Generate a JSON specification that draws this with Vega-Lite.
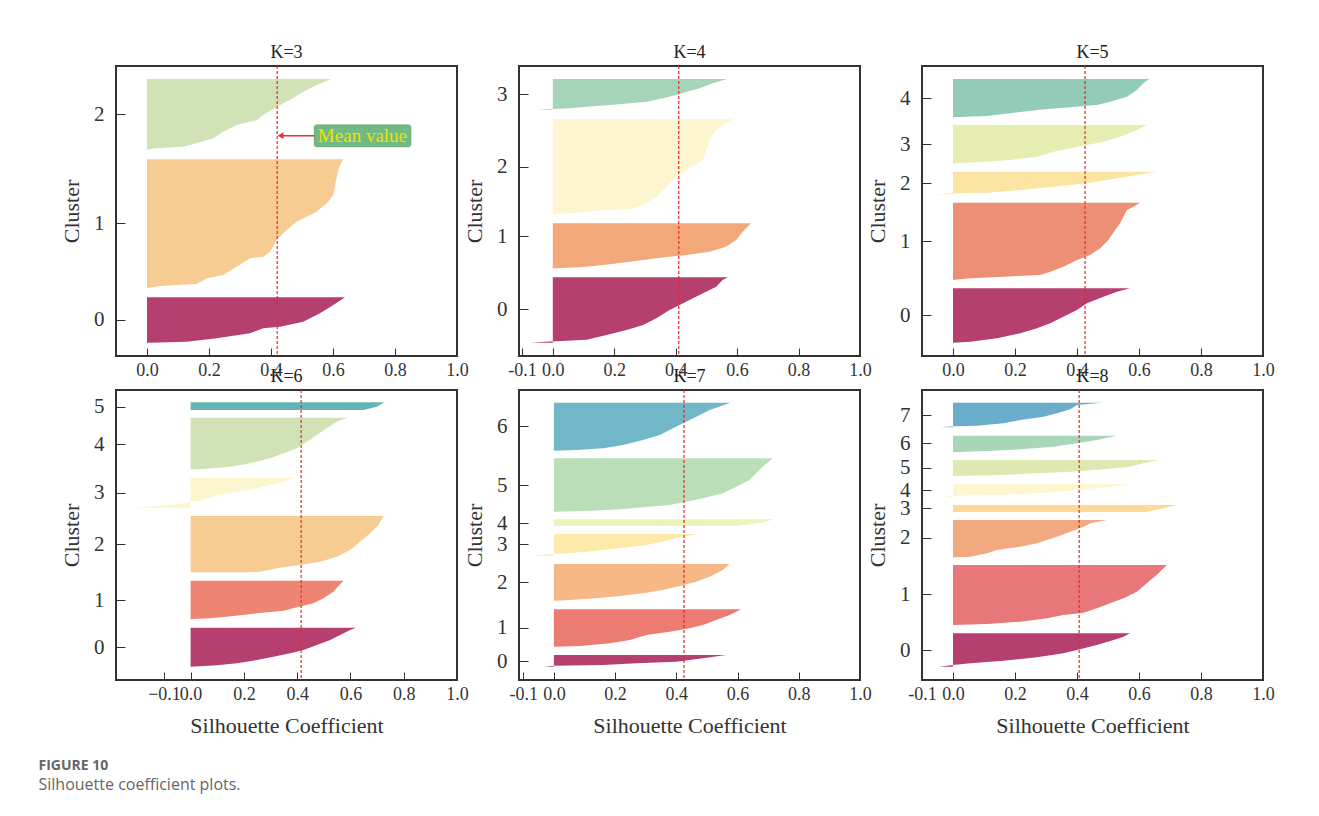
{
  "$schema": "https://vega.github.io/schema/vega-lite/v6.json",
  "background": "white",
  "padding": {"left": 38, "top": 43, "right": 5, "bottom": 5},
  "bounds": "flush",
  "columns": 3,
  "spacing": {"row": 34, "column": 62},
  "title": {
    "text": "FIGURE 10",
    "subtitle": "Silhouette coefficient plots.",
    "orient": "bottom",
    "anchor": "start",
    "frame": "bounds",
    "font": "Open Sans",
    "fontSize": 14,
    "fontWeight": "bold",
    "color": "#666666",
    "subtitleFont": "Open Sans",
    "subtitleFontSize": 16,
    "subtitleColor": "#666666",
    "subtitlePadding": 4,
    "offset": 22,
    "dx": -21
  },
  "datasets": {
    "means": [
      {"k": 3, "mean": 0.42}, {"k": 4, "mean": 0.41}, {"k": 5, "mean": 0.426},
      {"k": 6, "mean": 0.415}, {"k": 7, "mean": 0.425}, {"k": 8, "mean": 0.407}
    ],
    "note": [
      {"x1": 0.54, "x2": 0.851, "y1": 209.3, "y2": 231, "tx": 0.695, "ty": 220, "label": "Mean value", "ax1": 0.435, "ax2": 0.54, "hx": 0.431, "ay": 220.3}
    ],
    "sil": [
      {"k":3,"c":0,"y":13.3,"v":0.01},{"k":3,"c":0,"y":14.3,"v":0.128},{"k":3,"c":0,"y":17.7,"v":0.225},{"k":3,"c":0,"y":22.7,"v":0.332},{"k":3,"c":0,"y":27.7,"v":0.375},{"k":3,"c":0,"y":29.3,"v":0.429},{"k":3,"c":0,"y":34.3,"v":0.504},{"k":3,"c":0,"y":42.7,"v":0.558},{"k":3,"c":0,"y":51,"v":0.601},{"k":3,"c":0,"y":58.7,"v":0.639},
      {"k":3,"c":1,"y":67.7,"v":-0.005},{"k":3,"c":1,"y":70,"v":0.042},{"k":3,"c":1,"y":72,"v":0.16},{"k":3,"c":1,"y":77.7,"v":0.193},{"k":3,"c":1,"y":81,"v":0.246},{"k":3,"c":1,"y":89.3,"v":0.289},{"k":3,"c":1,"y":97.7,"v":0.332},{"k":3,"c":1,"y":99.3,"v":0.375},{"k":3,"c":1,"y":104.3,"v":0.397},{"k":3,"c":1,"y":116,"v":0.418},{"k":3,"c":1,"y":126,"v":0.45},{"k":3,"c":1,"y":134.3,"v":0.483},{"k":3,"c":1,"y":139.3,"v":0.515},{"k":3,"c":1,"y":144.3,"v":0.547},{"k":3,"c":1,"y":152.7,"v":0.58},{"k":3,"c":1,"y":161,"v":0.601},{"k":3,"c":1,"y":179.3,"v":0.612},{"k":3,"c":1,"y":189.3,"v":0.62},{"k":3,"c":1,"y":196.7,"v":0.633},
      {"k":3,"c":2,"y":206,"v":-0.012},{"k":3,"c":2,"y":207.7,"v":0.031},{"k":3,"c":2,"y":209.3,"v":0.117},{"k":3,"c":2,"y":212.7,"v":0.16},{"k":3,"c":2,"y":217.7,"v":0.214},{"k":3,"c":2,"y":224.3,"v":0.246},{"k":3,"c":2,"y":231,"v":0.289},{"k":3,"c":2,"y":236,"v":0.354},{"k":3,"c":2,"y":241,"v":0.375},{"k":3,"c":2,"y":249.3,"v":0.418},{"k":3,"c":2,"y":256,"v":0.461},{"k":3,"c":2,"y":264.3,"v":0.504},{"k":3,"c":2,"y":271,"v":0.547},{"k":3,"c":2,"y":277,"v":0.594},

      {"k":4,"c":0,"y":13.3,"v":-0.074},{"k":4,"c":0,"y":14.5,"v":-0.01},{"k":4,"c":0,"y":15,"v":0.03},{"k":4,"c":0,"y":16.3,"v":0.11},{"k":4,"c":0,"y":21,"v":0.175},{"k":4,"c":0,"y":26,"v":0.24},{"k":4,"c":0,"y":31,"v":0.294},{"k":4,"c":0,"y":37.7,"v":0.337},{"k":4,"c":0,"y":46,"v":0.38},{"k":4,"c":0,"y":51,"v":0.413},{"k":4,"c":0,"y":56,"v":0.445},{"k":4,"c":0,"y":62.7,"v":0.489},{"k":4,"c":0,"y":69.3,"v":0.532},{"k":4,"c":0,"y":76,"v":0.553},{"k":4,"c":0,"y":78.7,"v":0.57},
      {"k":4,"c":1,"y":87.7,"v":0.005},{"k":4,"c":1,"y":88.7,"v":0.089},{"k":4,"c":1,"y":91,"v":0.164},{"k":4,"c":1,"y":94.3,"v":0.251},{"k":4,"c":1,"y":97.7,"v":0.337},{"k":4,"c":1,"y":99.3,"v":0.38},{"k":4,"c":1,"y":101,"v":0.435},{"k":4,"c":1,"y":104.3,"v":0.51},{"k":4,"c":1,"y":109.3,"v":0.564},{"k":4,"c":1,"y":116,"v":0.597},{"k":4,"c":1,"y":124.3,"v":0.618},{"k":4,"c":1,"y":132.7,"v":0.645},
      {"k":4,"c":2,"y":142,"v":0.0},{"k":4,"c":2,"y":143.3,"v":0.078},{"k":4,"c":2,"y":146,"v":0.164},{"k":4,"c":2,"y":146.7,"v":0.251},{"k":4,"c":2,"y":151,"v":0.294},{"k":4,"c":2,"y":159.3,"v":0.337},{"k":4,"c":2,"y":169.3,"v":0.37},{"k":4,"c":2,"y":179.3,"v":0.402},{"k":4,"c":2,"y":186,"v":0.435},{"k":4,"c":2,"y":196,"v":0.489},{"k":4,"c":2,"y":206,"v":0.5},{"k":4,"c":2,"y":216,"v":0.51},{"k":4,"c":2,"y":226,"v":0.532},{"k":4,"c":2,"y":232.7,"v":0.564},{"k":4,"c":2,"y":236.7,"v":0.586},
      {"k":4,"c":3,"y":246,"v":-0.052},{"k":4,"c":3,"y":247,"v":0.0},{"k":4,"c":3,"y":247.7,"v":0.056},{"k":4,"c":3,"y":249.3,"v":0.11},{"k":4,"c":3,"y":251,"v":0.186},{"k":4,"c":3,"y":252.7,"v":0.251},{"k":4,"c":3,"y":254.3,"v":0.305},{"k":4,"c":3,"y":257.7,"v":0.359},{"k":4,"c":3,"y":261,"v":0.402},{"k":4,"c":3,"y":264.3,"v":0.435},{"k":4,"c":3,"y":267.7,"v":0.478},{"k":4,"c":3,"y":272.7,"v":0.521},{"k":4,"c":3,"y":277,"v":0.568},

      {"k":5,"c":0,"y":13.3,"v":0.0},{"k":5,"c":0,"y":14.3,"v":0.056},{"k":5,"c":0,"y":17.7,"v":0.142},{"k":5,"c":0,"y":22.7,"v":0.217},{"k":5,"c":0,"y":27.7,"v":0.271},{"k":5,"c":0,"y":32.7,"v":0.314},{"k":5,"c":0,"y":39.3,"v":0.356},{"k":5,"c":0,"y":46,"v":0.4},{"k":5,"c":0,"y":52.7,"v":0.432},{"k":5,"c":0,"y":59.3,"v":0.485},{"k":5,"c":0,"y":64.3,"v":0.529},{"k":5,"c":0,"y":67.7,"v":0.571},
      {"k":5,"c":1,"y":76,"v":-0.003},{"k":5,"c":1,"y":77.7,"v":0.056},{"k":5,"c":1,"y":79.3,"v":0.163},{"k":5,"c":1,"y":81,"v":0.281},{"k":5,"c":1,"y":84.3,"v":0.314},{"k":5,"c":1,"y":89.3,"v":0.356},{"k":5,"c":1,"y":96,"v":0.4},{"k":5,"c":1,"y":101,"v":0.442},{"k":5,"c":1,"y":107.7,"v":0.475},{"k":5,"c":1,"y":116,"v":0.501},{"k":5,"c":1,"y":126,"v":0.523},{"k":5,"c":1,"y":132.7,"v":0.539},{"k":5,"c":1,"y":146,"v":0.561},{"k":5,"c":1,"y":149.3,"v":0.582},{"k":5,"c":1,"y":153.3,"v":0.604},
      {"k":5,"c":2,"y":161.7,"v":-0.053},{"k":5,"c":2,"y":162.7,"v":0.0},{"k":5,"c":2,"y":163.3,"v":0.11},{"k":5,"c":2,"y":166,"v":0.217},{"k":5,"c":2,"y":169.3,"v":0.324},{"k":5,"c":2,"y":172.7,"v":0.432},{"k":5,"c":2,"y":177.7,"v":0.529},{"k":5,"c":2,"y":181,"v":0.593},{"k":5,"c":2,"y":184.3,"v":0.657},
      {"k":5,"c":3,"y":192.7,"v":0.0},{"k":5,"c":3,"y":194.3,"v":0.11},{"k":5,"c":3,"y":196,"v":0.185},{"k":5,"c":3,"y":199.3,"v":0.271},{"k":5,"c":3,"y":204.3,"v":0.324},{"k":5,"c":3,"y":207.7,"v":0.378},{"k":5,"c":3,"y":211,"v":0.432},{"k":5,"c":3,"y":214.3,"v":0.485},{"k":5,"c":3,"y":219.3,"v":0.539},{"k":5,"c":3,"y":226,"v":0.593},{"k":5,"c":3,"y":231,"v":0.625},
      {"k":5,"c":4,"y":238.7,"v":0.0},{"k":5,"c":4,"y":240,"v":0.11},{"k":5,"c":4,"y":242.7,"v":0.185},{"k":5,"c":4,"y":246,"v":0.271},{"k":5,"c":4,"y":248.7,"v":0.378},{"k":5,"c":4,"y":251,"v":0.464},{"k":5,"c":4,"y":254.3,"v":0.507},{"k":5,"c":4,"y":259.3,"v":0.561},{"k":5,"c":4,"y":266,"v":0.593},{"k":5,"c":4,"y":272.7,"v":0.614},{"k":5,"c":4,"y":277,"v":0.633},

      {"k":6,"c":0,"y":13.3,"v":0.0},{"k":6,"c":0,"y":14.7,"v":0.099},{"k":6,"c":0,"y":16.7,"v":0.174},{"k":6,"c":0,"y":20,"v":0.249},{"k":6,"c":0,"y":23.3,"v":0.311},{"k":6,"c":0,"y":26.7,"v":0.374},{"k":6,"c":0,"y":30,"v":0.424},{"k":6,"c":0,"y":35,"v":0.474},{"k":6,"c":0,"y":40,"v":0.524},{"k":6,"c":0,"y":45,"v":0.561},{"k":6,"c":0,"y":50,"v":0.599},{"k":6,"c":0,"y":52.3,"v":0.621},
      {"k":6,"c":1,"y":60.7,"v":-0.016},{"k":6,"c":1,"y":61.7,"v":0.074},{"k":6,"c":1,"y":64,"v":0.161},{"k":6,"c":1,"y":66.7,"v":0.249},{"k":6,"c":1,"y":69.3,"v":0.349},{"k":6,"c":1,"y":72.7,"v":0.399},{"k":6,"c":1,"y":76.7,"v":0.461},{"k":6,"c":1,"y":81.7,"v":0.499},{"k":6,"c":1,"y":88.3,"v":0.536},{"k":6,"c":1,"y":94,"v":0.555},{"k":6,"c":1,"y":99.3,"v":0.574},
      {"k":6,"c":2,"y":107.7,"v":0.2},{"k":6,"c":2,"y":108.3,"v":0.261},{"k":6,"c":2,"y":111.7,"v":0.324},{"k":6,"c":2,"y":115,"v":0.411},{"k":6,"c":2,"y":118.3,"v":0.486},{"k":6,"c":2,"y":123.3,"v":0.549},{"k":6,"c":2,"y":130,"v":0.599},{"k":6,"c":2,"y":138.3,"v":0.636},{"k":6,"c":2,"y":146.7,"v":0.674},{"k":6,"c":2,"y":155,"v":0.705},{"k":6,"c":2,"y":164,"v":0.724},
      {"k":6,"c":3,"y":172.3,"v":-0.232},{"k":6,"c":3,"y":174,"v":-0.114},{"k":6,"c":3,"y":176.7,"v":-0.026},{"k":6,"c":3,"y":178.3,"v":0.0},{"k":6,"c":3,"y":179,"v":0.036},{"k":6,"c":3,"y":181.7,"v":0.061},{"k":6,"c":3,"y":185,"v":0.099},{"k":6,"c":3,"y":188.3,"v":0.174},{"k":6,"c":3,"y":191.7,"v":0.249},{"k":6,"c":3,"y":195,"v":0.299},{"k":6,"c":3,"y":198.3,"v":0.349},{"k":6,"c":3,"y":200.7,"v":0.374},{"k":6,"c":3,"y":202.3,"v":0.399},
      {"k":6,"c":4,"y":210.7,"v":0.0},{"k":6,"c":4,"y":211,"v":0.049},{"k":6,"c":4,"y":213.3,"v":0.149},{"k":6,"c":4,"y":216.7,"v":0.224},{"k":6,"c":4,"y":221.7,"v":0.299},{"k":6,"c":4,"y":226.7,"v":0.349},{"k":6,"c":4,"y":231.7,"v":0.399},{"k":6,"c":4,"y":238.3,"v":0.436},{"k":6,"c":4,"y":245,"v":0.474},{"k":6,"c":4,"y":251.7,"v":0.511},{"k":6,"c":4,"y":258.3,"v":0.549},{"k":6,"c":4,"y":262.3,"v":0.592},
      {"k":6,"c":5,"y":270,"v":0.649},{"k":6,"c":5,"y":273.3,"v":0.699},{"k":6,"c":5,"y":277.7,"v":0.727},

      {"k":7,"c":0,"y":13.3,"v":-0.033},{"k":7,"c":0,"y":14.3,"v":0.0},{"k":7,"c":0,"y":15,"v":0.161},{"k":7,"c":0,"y":16.7,"v":0.27},{"k":7,"c":0,"y":18.3,"v":0.4},{"k":7,"c":0,"y":21.7,"v":0.487},{"k":7,"c":0,"y":25,"v":0.563},
      {"k":7,"c":1,"y":33.3,"v":0.0},{"k":7,"c":1,"y":34,"v":0.085},{"k":7,"c":1,"y":36.7,"v":0.183},{"k":7,"c":1,"y":40,"v":0.248},{"k":7,"c":1,"y":45,"v":0.302},{"k":7,"c":1,"y":48.3,"v":0.378},{"k":7,"c":1,"y":51.7,"v":0.443},{"k":7,"c":1,"y":55,"v":0.487},{"k":7,"c":1,"y":60,"v":0.53},{"k":7,"c":1,"y":65,"v":0.574},{"k":7,"c":1,"y":70.7,"v":0.612},
      {"k":7,"c":2,"y":79,"v":-0.015},{"k":7,"c":2,"y":80,"v":0.052},{"k":7,"c":2,"y":81.7,"v":0.139},{"k":7,"c":2,"y":84,"v":0.215},{"k":7,"c":2,"y":86.7,"v":0.291},{"k":7,"c":2,"y":90,"v":0.356},{"k":7,"c":2,"y":94,"v":0.411},{"k":7,"c":2,"y":98.3,"v":0.465},{"k":7,"c":2,"y":103.3,"v":0.509},{"k":7,"c":2,"y":110,"v":0.552},{"k":7,"c":2,"y":116,"v":0.574},
      {"k":7,"c":3,"y":124.3,"v":-0.073},{"k":7,"c":3,"y":126,"v":0.0},{"k":7,"c":3,"y":128.3,"v":0.107},{"k":7,"c":3,"y":131.7,"v":0.215},{"k":7,"c":3,"y":135,"v":0.302},{"k":7,"c":3,"y":138.3,"v":0.356},{"k":7,"c":3,"y":141.7,"v":0.4},{"k":7,"c":3,"y":144,"v":0.433},{"k":7,"c":3,"y":146,"v":0.474},
      {"k":7,"c":4,"y":154,"v":0.596},{"k":7,"c":4,"y":157.3,"v":0.68},{"k":7,"c":4,"y":160.7,"v":0.717},
      {"k":7,"c":5,"y":168.3,"v":0.0},{"k":7,"c":5,"y":169,"v":0.107},{"k":7,"c":5,"y":170.7,"v":0.215},{"k":7,"c":5,"y":172.7,"v":0.291},{"k":7,"c":5,"y":175,"v":0.378},{"k":7,"c":5,"y":178.3,"v":0.433},{"k":7,"c":5,"y":181.7,"v":0.487},{"k":7,"c":5,"y":186.7,"v":0.552},{"k":7,"c":5,"y":193.3,"v":0.596},{"k":7,"c":5,"y":200,"v":0.639},{"k":7,"c":5,"y":206.7,"v":0.661},{"k":7,"c":5,"y":213.3,"v":0.682},{"k":7,"c":5,"y":221.7,"v":0.715},
      {"k":7,"c":6,"y":229.3,"v":0.0},{"k":7,"c":6,"y":230,"v":0.074},{"k":7,"c":6,"y":231.7,"v":0.161},{"k":7,"c":6,"y":235,"v":0.226},{"k":7,"c":6,"y":240,"v":0.291},{"k":7,"c":6,"y":245,"v":0.346},{"k":7,"c":6,"y":250,"v":0.378},{"k":7,"c":6,"y":256.7,"v":0.422},{"k":7,"c":6,"y":263.3,"v":0.465},{"k":7,"c":6,"y":270,"v":0.509},{"k":7,"c":6,"y":277.3,"v":0.577},

      {"k":8,"c":0,"y":13.3,"v":-0.046},{"k":8,"c":0,"y":15,"v":0.0},{"k":8,"c":0,"y":16.7,"v":0.056},{"k":8,"c":0,"y":19.3,"v":0.163},{"k":8,"c":0,"y":22.7,"v":0.271},{"k":8,"c":0,"y":26.7,"v":0.356},{"k":8,"c":0,"y":30,"v":0.4},{"k":8,"c":0,"y":35,"v":0.464},{"k":8,"c":0,"y":40,"v":0.518},{"k":8,"c":0,"y":43.3,"v":0.55},{"k":8,"c":0,"y":46.7,"v":0.571},
      {"k":8,"c":1,"y":55,"v":0.0},{"k":8,"c":1,"y":56,"v":0.11},{"k":8,"c":1,"y":58.3,"v":0.217},{"k":8,"c":1,"y":61.7,"v":0.303},{"k":8,"c":1,"y":65,"v":0.356},{"k":8,"c":1,"y":67.3,"v":0.421},{"k":8,"c":1,"y":71.7,"v":0.464},{"k":8,"c":1,"y":76.7,"v":0.507},{"k":8,"c":1,"y":81.7,"v":0.55},{"k":8,"c":1,"y":88.3,"v":0.593},{"k":8,"c":1,"y":96.7,"v":0.625},{"k":8,"c":1,"y":105,"v":0.657},{"k":8,"c":1,"y":115,"v":0.69},
      {"k":8,"c":2,"y":122.7,"v":0.0},{"k":8,"c":2,"y":123.3,"v":0.056},{"k":8,"c":2,"y":126.7,"v":0.11},{"k":8,"c":2,"y":130,"v":0.142},{"k":8,"c":2,"y":133.3,"v":0.217},{"k":8,"c":2,"y":136.7,"v":0.271},{"k":8,"c":2,"y":143.3,"v":0.335},{"k":8,"c":2,"y":148.3,"v":0.378},{"k":8,"c":2,"y":153.3,"v":0.421},{"k":8,"c":2,"y":156.7,"v":0.443},{"k":8,"c":2,"y":160,"v":0.496},
      {"k":8,"c":3,"y":168,"v":0.62},{"k":8,"c":3,"y":171.7,"v":0.68},{"k":8,"c":3,"y":175,"v":0.722},
      {"k":8,"c":4,"y":183.3,"v":-0.052},{"k":8,"c":4,"y":184.3,"v":0.0},{"k":8,"c":4,"y":185,"v":0.163},{"k":8,"c":4,"y":186.7,"v":0.271},{"k":8,"c":4,"y":189.3,"v":0.378},{"k":8,"c":4,"y":191.7,"v":0.464},{"k":8,"c":4,"y":194,"v":0.529},{"k":8,"c":4,"y":196,"v":0.571},
      {"k":8,"c":5,"y":204,"v":0.0},{"k":8,"c":5,"y":205,"v":0.163},{"k":8,"c":5,"y":206.7,"v":0.271},{"k":8,"c":5,"y":208.3,"v":0.378},{"k":8,"c":5,"y":210.7,"v":0.485},{"k":8,"c":5,"y":213.3,"v":0.571},{"k":8,"c":5,"y":216.7,"v":0.614},{"k":8,"c":5,"y":220,"v":0.663},
      {"k":8,"c":6,"y":227.7,"v":0.0},{"k":8,"c":6,"y":229,"v":0.11},{"k":8,"c":6,"y":230.7,"v":0.217},{"k":8,"c":6,"y":233.3,"v":0.324},{"k":8,"c":6,"y":236.7,"v":0.4},{"k":8,"c":6,"y":240,"v":0.464},{"k":8,"c":6,"y":244.3,"v":0.529},
      {"k":8,"c":7,"y":252.7,"v":-0.039},{"k":8,"c":7,"y":253.7,"v":0.0},{"k":8,"c":7,"y":254.3,"v":0.077},{"k":8,"c":7,"y":256.7,"v":0.163},{"k":8,"c":7,"y":260,"v":0.217},{"k":8,"c":7,"y":263.3,"v":0.292},{"k":8,"c":7,"y":266.7,"v":0.335},{"k":8,"c":7,"y":270.7,"v":0.378},{"k":8,"c":7,"y":275,"v":0.4},{"k":8,"c":7,"y":277.3,"v":0.48}
    ]
  },
  "concat": [
    {
      "width": 341, "height": 290,
      "title": {"text": "K=3"},
      "layer": [
        {
          "data": {"name": "sil"},
          "transform": [{"filter": "datum.k == 3"}],
          "mark": {"type": "area", "orient": "horizontal", "opacity": 1},
          "encoding": {
            "y": {"field": "y", "type": "quantitative", "scale": {"domain": [0, 290], "nice": false, "zero": false},
                  "axis": {"values": [36.3, 132.7, 241.7], "labelExpr": "'' + indexof([36.3, 132.7, 241.7], datum.value)", "title": "Cluster"}},
            "x": {"field": "v", "type": "quantitative", "stack": null, "scale": {"domain": [-0.1, 1], "nice": false, "zero": false},
                  "axis": {"values": [0, 0.2, 0.4, 0.6, 0.8, 1.0], "format": ".1f", "title": null}},
            "x2": {"datum": 0},
            "color": {"field": "c", "type": "nominal", "legend": null,
                      "scale": {"domain": [0, 1, 2], "range": ["#b5406f", "#f6cc92", "#d1e3b6"]}}
          }
        },
        {
          "data": {"name": "means"},
          "transform": [{"filter": "datum.k == 3"}],
          "mark": {"type": "rule", "color": "#e42a2a", "strokeWidth": 1.2, "strokeDash": [3, 2]},
          "encoding": {"x": {"field": "mean", "type": "quantitative"}}
        },
        {
          "data": {"name": "note"},
          "mark": {"type": "rect", "color": "#72b982", "stroke": "#62a872", "strokeWidth": 1, "cornerRadius": 2},
          "encoding": {
            "x": {"field": "x1", "type": "quantitative"}, "x2": {"field": "x2"},
            "y": {"field": "y1", "type": "quantitative"}, "y2": {"field": "y2"}
          }
        },
        {
          "data": {"name": "note"},
          "mark": {"type": "text", "font": "Liberation Serif", "fontSize": 19, "color": "#f0e200"},
          "encoding": {
            "x": {"field": "tx", "type": "quantitative"},
            "y": {"field": "ty", "type": "quantitative"},
            "text": {"field": "label"}
          }
        },
        {
          "data": {"name": "note"},
          "mark": {"type": "rule", "color": "#e8332a", "strokeWidth": 1.5},
          "encoding": {
            "x": {"field": "ax1", "type": "quantitative"}, "x2": {"field": "ax2"},
            "y": {"field": "ay", "type": "quantitative"}
          }
        },
        {
          "data": {"name": "note"},
          "mark": {"type": "point", "shape": "triangle-left", "filled": true, "color": "#e8332a", "size": 45, "opacity": 1},
          "encoding": {
            "x": {"field": "hx", "type": "quantitative"},
            "y": {"field": "ay", "type": "quantitative"}
          }
        }
      ]
    },
    {
      "width": 341, "height": 290,
      "title": {"text": "K=4"},
      "layer": [
        {
          "data": {"name": "sil"},
          "transform": [{"filter": "datum.k == 4"}],
          "mark": {"type": "area", "orient": "horizontal", "opacity": 1},
          "encoding": {
            "y": {"field": "y", "type": "quantitative", "scale": {"domain": [0, 290], "nice": false, "zero": false},
                  "axis": {"values": [46.7, 120, 189.3, 262], "labelExpr": "'' + indexof([46.7, 120, 189.3, 262], datum.value)", "title": "Cluster"}},
            "x": {"field": "v", "type": "quantitative", "stack": null, "scale": {"domain": [-0.11, 1], "nice": false, "zero": false},
                  "axis": {"values": [-0.1, 0, 0.2, 0.4, 0.6, 0.8, 1.0], "labelExpr": "replace(format(datum.value, '.1f'), '\u2212', '-')", "title": null}},
            "x2": {"datum": 0},
            "color": {"field": "c", "type": "nominal", "legend": null,
                      "scale": {"domain": [0, 1, 2, 3], "range": ["#b5406f", "#f2a87b", "#fcf5d0", "#a6d4b8"]}}
          }
        },
        {
          "data": {"name": "means"},
          "transform": [{"filter": "datum.k == 4"}],
          "mark": {"type": "rule", "color": "#e42a2a", "strokeWidth": 1.2, "strokeDash": [3, 2]},
          "encoding": {"x": {"field": "mean", "type": "quantitative"}}
        }
      ]
    },
    {
      "width": 341, "height": 290,
      "title": {"text": "K=5"},
      "layer": [
        {
          "data": {"name": "sil"},
          "transform": [{"filter": "datum.k == 5"}],
          "mark": {"type": "area", "orient": "horizontal", "opacity": 1},
          "encoding": {
            "y": {"field": "y", "type": "quantitative", "scale": {"domain": [0, 290], "nice": false, "zero": false},
                  "axis": {"values": [41, 115, 172.7, 211.7, 257.7], "labelExpr": "'' + indexof([41, 115, 172.7, 211.7, 257.7], datum.value)", "title": "Cluster"}},
            "x": {"field": "v", "type": "quantitative", "stack": null, "scale": {"domain": [-0.1, 1], "nice": false, "zero": false},
                  "axis": {"values": [0, 0.2, 0.4, 0.6, 0.8, 1.0], "format": ".1f", "title": null}},
            "x2": {"datum": 0},
            "color": {"field": "c", "type": "nominal", "legend": null,
                      "scale": {"domain": [0, 1, 2, 3, 4], "range": ["#b5406f", "#ec8f75", "#fce4a2", "#e6edb1", "#92ccb9"]}}
          }
        },
        {
          "data": {"name": "means"},
          "transform": [{"filter": "datum.k == 5"}],
          "mark": {"type": "rule", "color": "#e42a2a", "strokeWidth": 1.2, "strokeDash": [3, 2]},
          "encoding": {"x": {"field": "mean", "type": "quantitative"}}
        }
      ]
    },
    {
      "width": 341, "height": 290,
      "title": {"text": "K=6"},
      "layer": [
        {
          "data": {"name": "sil"},
          "transform": [{"filter": "datum.k == 6"}],
          "mark": {"type": "area", "orient": "horizontal", "opacity": 1},
          "encoding": {
            "y": {"field": "y", "type": "quantitative", "scale": {"domain": [0, 290], "nice": false, "zero": false},
                  "axis": {"values": [32.7, 80, 136, 187.3, 236, 273.3], "labelExpr": "'' + indexof([32.7, 80, 136, 187.3, 236, 273.3], datum.value)", "title": "Cluster"}},
            "x": {"field": "v", "type": "quantitative", "stack": null, "scale": {"domain": [-0.28, 1], "nice": false, "zero": false},
                  "axis": {"values": [-0.1, 0, 0.2, 0.4, 0.6, 0.8, 1.0], "format": ".1f", "title": "Silhouette Coefficient"}},
            "x2": {"datum": 0},
            "color": {"field": "c", "type": "nominal", "legend": null,
                      "scale": {"domain": [0, 1, 2, 3, 4, 5], "range": ["#b5406f", "#ee8572", "#f6cc92", "#fcf6cf", "#d1e3b6", "#62b4b5"]}}
          }
        },
        {
          "data": {"name": "means"},
          "transform": [{"filter": "datum.k == 6"}],
          "mark": {"type": "rule", "color": "#e42a2a", "strokeWidth": 1.2, "strokeDash": [3, 2]},
          "encoding": {"x": {"field": "mean", "type": "quantitative"}}
        }
      ]
    },
    {
      "width": 341, "height": 290,
      "title": {"text": "K=7"},
      "layer": [
        {
          "data": {"name": "sil"},
          "transform": [{"filter": "datum.k == 7"}],
          "mark": {"type": "area", "orient": "horizontal", "opacity": 1},
          "encoding": {
            "y": {"field": "y", "type": "quantitative", "scale": {"domain": [0, 290], "nice": false, "zero": false},
                  "axis": {"values": [19, 52.3, 97.7, 135.7, 156.7, 195, 254], "labelExpr": "'' + indexof([19, 52.3, 97.7, 135.7, 156.7, 195, 254], datum.value)", "title": "Cluster"}},
            "x": {"field": "v", "type": "quantitative", "stack": null, "scale": {"domain": [-0.114, 1], "nice": false, "zero": false},
                  "axis": {"values": [-0.1, 0, 0.2, 0.4, 0.6, 0.8, 1.0], "labelExpr": "replace(format(datum.value, '.1f'), '\u2212', '-')", "title": "Silhouette Coefficient"}},
            "x2": {"datum": 0},
            "color": {"field": "c", "type": "nominal", "legend": null,
                      "scale": {"domain": [0, 1, 2, 3, 4, 5, 6], "range": ["#b5406f", "#ec7b74", "#f5b886", "#fde9aa", "#eef2bb", "#b9deb8", "#72b7c7"]}}
          }
        },
        {
          "data": {"name": "means"},
          "transform": [{"filter": "datum.k == 7"}],
          "mark": {"type": "rule", "color": "#e42a2a", "strokeWidth": 1.2, "strokeDash": [3, 2]},
          "encoding": {"x": {"field": "mean", "type": "quantitative"}}
        }
      ]
    },
    {
      "width": 341, "height": 290,
      "title": {"text": "K=8"},
      "layer": [
        {
          "data": {"name": "sil"},
          "transform": [{"filter": "datum.k == 8"}],
          "mark": {"type": "area", "orient": "horizontal", "opacity": 1},
          "encoding": {
            "y": {"field": "y", "type": "quantitative", "scale": {"domain": [0, 290], "nice": false, "zero": false},
                  "axis": {"values": [30, 85.7, 142.3, 171.7, 190, 212.3, 236.7, 265], "labelExpr": "'' + indexof([30, 85.7, 142.3, 171.7, 190, 212.3, 236.7, 265], datum.value)", "title": "Cluster"}},
            "x": {"field": "v", "type": "quantitative", "stack": null, "scale": {"domain": [-0.1, 1], "nice": false, "zero": false},
                  "axis": {"values": [-0.1, 0, 0.2, 0.4, 0.6, 0.8, 1.0], "labelExpr": "replace(format(datum.value, '.1f'), '\u2212', '-')", "title": "Silhouette Coefficient"}},
            "x2": {"datum": 0},
            "color": {"field": "c", "type": "nominal", "legend": null,
                      "scale": {"domain": [0, 1, 2, 3, 4, 5, 6, 7], "range": ["#b5406f", "#e77779", "#f3a97f", "#fcda96", "#fdf6cf", "#dde9b0", "#a8d6b9", "#6aadcb"]}}
          }
        },
        {
          "data": {"name": "means"},
          "transform": [{"filter": "datum.k == 8"}],
          "mark": {"type": "rule", "color": "#e42a2a", "strokeWidth": 1.2, "strokeDash": [3, 2]},
          "encoding": {"x": {"field": "mean", "type": "quantitative"}}
        }
      ]
    }
  ],
  "resolve": {"scale": {"x": "independent", "y": "independent", "color": "independent"}},
  "config": {
    "view": {"stroke": "#333333", "strokeWidth": 2},
    "title": {"font": "Liberation Serif", "fontSize": 18, "fontWeight": "normal", "color": "#222222", "offset": 3},
    "axis": {"grid": false, "domain": false, "labelFlush": false, "labelOverlap": false, "labelBound": false,
             "labelFont": "Liberation Serif", "labelColor": "#333333", "tickColor": "#333333", "tickWidth": 1,
             "titleFont": "Liberation Serif", "titleFontSize": 22, "titleFontWeight": "normal", "titleColor": "#333333"},
    "axisX": {"labelFontSize": 18, "tickSize": -8, "labelPadding": 13, "titlePadding": 12},
    "axisY": {"labelFontSize": 21, "tickSize": -9, "labelPadding": 21, "titlePadding": 10}
  }
}
